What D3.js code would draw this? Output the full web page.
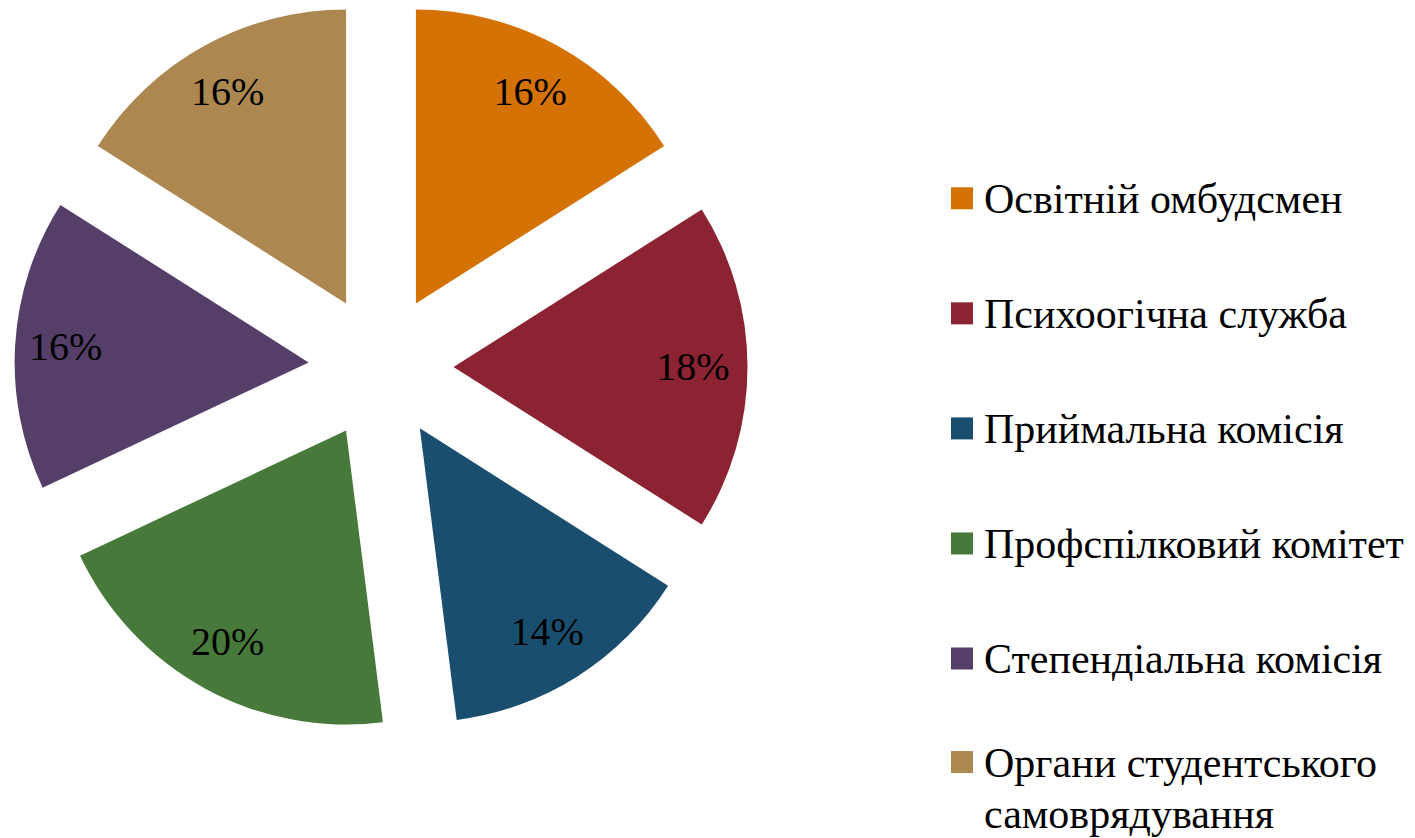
<!DOCTYPE html>
<html>
<head>
<meta charset="utf-8">
<script src="https://cdn.jsdelivr.net/npm/d3@7"></script>
</head>
<body style="margin:0">
<svg id="chart" width="1415" height="838"></svg>
<script>
const categories = [
  "Освітній омбудсмен",
  "Психоогічна служба",
  "Приймальна комісія",
  "Профспілковий комітет",
  "Степендіальна комісія",
  "Органи студентського самоврядування"
];
const values = [16, 18, 14, 20, 16, 16];
const legendLines = [
  ["Освітній омбудсмен"],
  ["Психоогічна служба"],
  ["Приймальна комісія"],
  ["Профспілковий комітет"],
  ["Степендіальна комісія"],
  ["Органи студентського", "самоврядування"]
];
const colors = ["#D57206", "#8B2332", "#1A4E6E", "#477A3A", "#553F69", "#AC8850"];

const svg = d3.select("#chart");
const cx = 381, cy = 367, r = 294, explode = 72.5, labelR = 314;

const data = categories.map((c, i) => ({ name: c, value: values[i], color: colors[i] }));
const pie = d3.pie().value(d => d.value).sort(null);
const arcs = pie(data);
const arc = d3.arc().innerRadius(0).outerRadius(r);
const total = d3.sum(values);

// legend texts first (same structure as a plain text list)
const legendY = d3.scaleLinear().domain([0, 4]).range([198.3, 658.5]);
const rowY = i => legendY(i) - (legendLines[i].length - 1) * 11.5;
const legendTexts = [];
legendLines.forEach((lines, i) => lines.forEach((line, j) => legendTexts.push({ line, y: rowY(i) + 14.5 + j * 51 })));

svg.selectAll("text").data(legendTexts).enter().append("text")
  .attr("x", 984)
  .attr("y", d => d.y)
  .style("font-family", d => `"Times New Roman"`)
  .style("font-size", "42px")
  .text(d => d.line);

svg.selectAll("rect.key").data(data).enter().append("rect")
  .attr("class", "key")
  .attr("x", 951).attr("y", (d, i) => rowY(i) - 11)
  .attr("width", 22).attr("height", 22)
  .attr("fill", d => d.color);

// exploded pie
const g = svg.append("g").attr("transform", `translate(${cx},${cy})`);
g.selectAll("path").data(arcs).enter().append("path")
  .attr("transform", d => {
    const a = (d.startAngle + d.endAngle) / 2;
    return `translate(${explode * Math.sin(a)},${-explode * Math.cos(a)})`;
  })
  .attr("d", arc)
  .attr("fill", d => d.data.color);

// percentage labels
g.selectAll("text").data(arcs).enter().append("text")
  .attr("x", d => labelR * Math.sin((d.startAngle + d.endAngle) / 2) - 2)
  .attr("y", d => -labelR * Math.cos((d.startAngle + d.endAngle) / 2) + 13)
  .attr("text-anchor", "middle")
  .style("font-family", d => `"Times New Roman"`)
  .style("font-size", "40px")
  .text(d => Math.round(d.data.value / total * 100) + "%");
</script>
</body>
</html>
